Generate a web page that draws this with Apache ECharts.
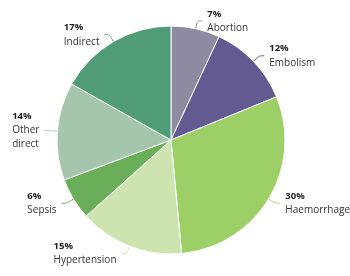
<!DOCTYPE html>
<html>
<head>
<meta charset="utf-8">
<script src="https://cdn.jsdelivr.net/npm/echarts@6/dist/echarts.min.js"></script>
<style>
  html, body { margin: 0; padding: 0; background: #fff; }
  #chart { width: 350px; height: 276px; }
</style>
</head>
<body>
<div id="chart"></div>
<script>
// causes of maternal death, share in %
const causes = ['Abortion', 'Embolism', 'Haemorrhage', 'Hypertension', 'Sepsis', 'Other\ndirect', 'Indirect']
const shares = [7, 12, 30, 15, 6, 14, 17]
const colors = ['#8e8aa2', '#625a90', '#9dcf67', '#cde4b1', '#6aae5a', '#a5c5ad', '#4f9c76']

const chart = echarts.init(document.getElementById('chart'))
const option = {
  animation: false,
  series: [
    {
      type: 'pie',
      center: [171, 140],
      radius: 114,
      startAngle: 90,
      clockwise: true,
      data: causes.map((name, i) => ({
        name: name,
        value: shares[i],
        itemStyle: { color: colors[i] }
      })),
      itemStyle: {
        borderColor: '#fff',
        borderWidth: 1
      },
      label: {
        show: true,
        position: 'outside',
        overflow: 'none',
        fontFamily: 'Open Sans',
        formatter: '{p|{c}%}\n{n|{b}}',
        rich: {
          p: { fontSize: 9.5, fontWeight: 'bold', color: '#1e1e1e', lineHeight: 14, align: 'left', fontFamily: 'Open Sans' },
          n: { fontSize: 10, color: '#333', lineHeight: 14, align: 'left', fontFamily: 'Open Sans' }
        }
      },
      labelLine: {
        show: true,
        length: 8,
        length2: 5,
        smooth: true,
        lineStyle: { width: 1 }
      }
    }
  ]
}
chart.setOption(option)
</script>
</body>
</html>
